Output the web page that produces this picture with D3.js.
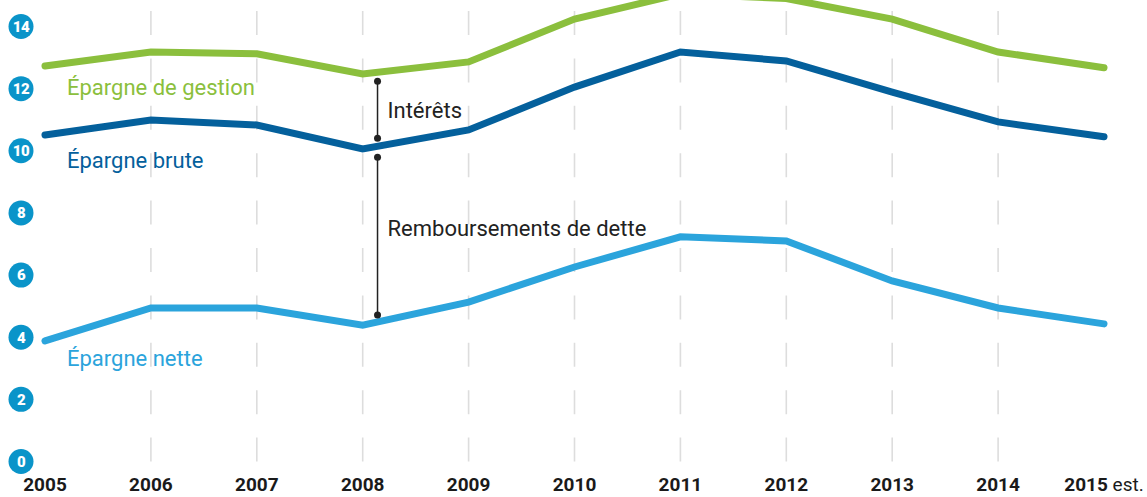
<!DOCTYPE html>
<html>
<head>
<meta charset="utf-8">
<script src="https://cdn.jsdelivr.net/npm/d3@7"></script>
<style>
  body { margin: 0; background: #fff; }
  svg { display: block; font-family: Roboto, "Noto Sans", sans-serif; }
</style>
</head>
<body>
<svg id="chart"></svg>
<script>
const svgWidth = 1147;
const svgHeight = 497;

// data (milliards)
const years = [2005, 2006, 2007, 2008, 2009, 2010, 2011, 2012, 2013, 2014, 2015];
const yearLabels = ["2005", "2006", "2007", "2008", "2009", "2010", "2011", "2012", "2013", "2014", "2015"];
const gestion = [12.73, 13.18, 13.12, 12.47, 12.86, 14.24, 15.05, 14.9, 14.24, 13.18, 12.67];
const brute = [10.51, 10.99, 10.83, 10.06, 10.67, 12.05, 13.18, 12.89, 11.89, 10.93, 10.45];
const nette = [3.88, 4.94, 4.94, 4.39, 5.13, 6.26, 7.23, 7.1, 5.81, 4.94, 4.43];
const yTicks = [0, 2, 4, 6, 8, 10, 12, 14];

const series = [
  { name: "Épargne de gestion", values: gestion, color: "#8bbf3d", labelAt: 11.78 },
  { name: "Épargne brute", values: brute, color: "#04609c", labelAt: 9.44 },
  { name: "Épargne nette", values: nette, color: "#2ba4dc", labelAt: 3.07 }
];

const svg = d3.select("#chart").attr("width", svgWidth).attr("height", svgHeight);

const x = d3.scaleLinear().domain([2005, 2015]).range([45, 1104]);
const y = d3.scaleLinear().domain([0, 14]).range([461.5, 26.5]);

// dashed vertical grid
svg.append("g")
  .selectAll("line")
  .data(years.slice(1, -1))
  .join("line")
  .attr("x1", d => x(d))
  .attr("x2", d => x(d))
  .attr("y1", 11)
  .attr("y2", y(0))
  .attr("stroke", "#dddddd")
  .attr("stroke-width", 1.6)
  .attr("stroke-dasharray", "24 23.4");

// y axis badges
const badge = svg.append("g")
  .selectAll("g")
  .data(yTicks)
  .join("g")
  .attr("transform", d => `translate(21,${y(d)})`);
badge.append("circle").attr("r", 12.5).attr("fill", "#0a94c9");
badge.append("text")
  .attr("text-anchor", "middle")
  .attr("dy", "0.36em")
  .attr("fill", "#fff")
  .attr("font-weight", 900)
  .attr("font-size", 15)
  .attr("letter-spacing", -0.5)
  .text(d => d);

// lines
const line = d3.line()
  .x((d, i) => x(years[i]))
  .y(d => y(d));

svg.append("g")
  .selectAll("path")
  .data(series)
  .join("path")
  .attr("d", d => line(d.values))
  .attr("fill", "none")
  .attr("stroke", d => d.color)
  .attr("stroke-width", 7)
  .attr("stroke-linecap", "round")
  .attr("stroke-linejoin", "miter");

// series labels
svg.append("g")
  .selectAll("text")
  .data(series)
  .join("text")
  .attr("x", 67)
  .attr("y", d => y(d.labelAt))
  .attr("fill", d => d.color)
  .attr("font-size", 22)
  .text(d => d.name);

// annotations between the curves
const annX = 2008.14;
const at = (vals) => {
  const i = 3;
  return vals[i] + (annX - years[i]) * (vals[i + 1] - vals[i]);
};
const spans = [
  { label: "Intérêts", y1: y(at(gestion)) + 9, y2: y(at(brute)) - 8, dy: 8 },
  { label: "Remboursements de dette", y1: y(at(brute)) + 11, y2: y(at(nette)) - 7, dy: 0 }
];
const ann = svg.append("g").selectAll("g").data(spans).join("g");
ann.append("line")
  .attr("x1", x(annX)).attr("x2", x(annX))
  .attr("y1", d => d.y1).attr("y2", d => d.y2)
  .attr("stroke", "#222").attr("stroke-width", 1.5);
ann.selectAll("circle")
  .data(d => [d.y1, d.y2])
  .join("circle")
  .attr("cx", x(annX)).attr("cy", d => d).attr("r", 3.5).attr("fill", "#222");
ann.append("text")
  .attr("x", x(annX) + 10)
  .attr("y", d => (d.y1 + d.y2) / 2 + d.dy)
  .attr("fill", "#222")
  .attr("font-size", 22)
  .text(d => d.label);

// x axis labels
const xl = svg.append("g")
  .selectAll("text")
  .data(years)
  .join("text")
  .attr("x", d => x(d))
  .attr("y", 491)
  .attr("text-anchor", "middle")
  .attr("fill", "#1a1a1a")
  .attr("font-size", 19)
  .attr("font-weight", 700);
xl.append("tspan").text((d, i) => yearLabels[i]);
xl.filter(d => d === 2015)
  .append("tspan")
  .attr("font-weight", 400)
  .text(" est.");
</script>
</body>
</html>
